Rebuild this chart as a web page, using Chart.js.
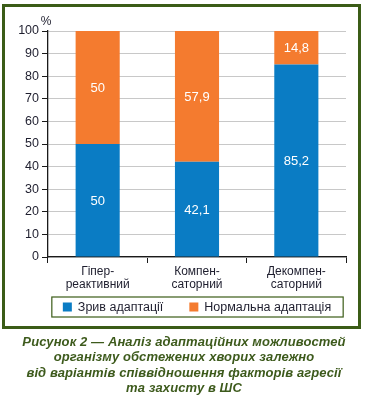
<!DOCTYPE html>
<html>
<head>
<meta charset="utf-8">
<script src="https://cdn.jsdelivr.net/npm/chart.js@4"></script>
<style>
  html, body { margin:0; padding:0; background:#fff; }
  body { width:365px; height:401px; position:relative; overflow:hidden; font-family:"Liberation Sans", Arial, sans-serif; }
  #wrap { position:absolute; left:0; top:0; width:365px; height:330px; }
  #frame { position:absolute; left:2px; top:4px; width:359px; height:325px; box-sizing:border-box; border:3.5px solid #3b5c17; pointer-events:none; }
  #caption { position:absolute; left:0; top:334px; width:368px; text-align:center; color:#3d5a1c; font:italic bold 13px "Liberation Sans", Arial, sans-serif; line-height:15.4px; letter-spacing:0.1px; }
</style>
</head>
<body>
<div id="wrap"><canvas id="c" width="365" height="330"></canvas></div>
<div id="frame"></div>
<div id="caption">Рисунок 2 — Аналіз адаптаційних можливостей<br>організму обстежених хворих залежно<br>від варіантів співвідношення факторів агресії<br>та захисту в ШС</div>
<script>
const categories = [['Гіпер-', 'реактивний'], ['Компен-', 'саторний'], ['Декомпен-', 'саторний']];
const seriesNames = ['Зрив адаптації', 'Нормальна адаптація'];
const breakdownValues = [50, 42.1, 85.2];
const normalValues = [50, 57.9, 14.8];
const yTicks = [0, 10, 20, 30, 40, 50, 60, 70, 80, 90, 100];
const colors = ['#0a7cc4', '#f47b2f'];

const fmt = v => String(v).replace('.', ',');

const valueLabels = {
  id: 'valueLabels',
  afterDatasetsDraw(chart) {
    const ctx = chart.ctx;
    ctx.save();
    ctx.fillStyle = '#ffffff';
    ctx.font = '13px "Liberation Sans", Arial, sans-serif';
    ctx.textAlign = 'center';
    ctx.textBaseline = 'middle';
    chart.data.datasets.forEach((ds, i) => {
      const meta = chart.getDatasetMeta(i);
      meta.data.forEach((el, j) => {
        const p = el.getCenterPoint();
        ctx.fillText(fmt(ds.data[j]), p.x, p.y + 1);
      });
    });
    ctx.restore();
  }
};

const extras = {
  id: 'extras',
  afterDraw(chart) {
    const ctx = chart.ctx;
    const a = chart.chartArea;
    ctx.save();
    ctx.fillStyle = '#1e1e2e';
    ctx.font = '12px "Liberation Sans", Arial, sans-serif';
    ctx.textAlign = 'center';
    ctx.textBaseline = 'middle';
    ctx.fillText('%', a.left - 2, a.top - 9);
    ctx.font = '12.5px "Liberation Sans", Arial, sans-serif';
    const box = 9, gap = 6, itemGap = 26;
    const items = chart.data.datasets.map(ds => ({ label: ds.label, color: ds.backgroundColor, w: box + gap + ctx.measureText(ds.label).width }));
    const total = items.reduce((s, it) => s + it.w, 0) + itemGap * (items.length - 1);
    const cx = (a.left + a.right) / 2;
    let x = cx - total / 2;
    const cy = a.bottom + 50;
    ctx.strokeStyle = '#3b5c17';
    ctx.lineWidth = 1.2;
    ctx.strokeRect(x - 11, cy - 10, total + 23, 20);
    ctx.textAlign = 'left';
    items.forEach(it => {
      ctx.fillStyle = it.color;
      ctx.fillRect(x, cy - box / 2, box, box);
      ctx.fillStyle = '#1e1e2e';
      ctx.fillText(it.label, x + box + gap, cy + 0.5);
      x += it.w + itemGap;
    });
    ctx.restore();
  }
};

new Chart(document.getElementById('c'), {
  type: 'bar',
  data: {
    labels: categories,
    datasets: [
      { label: seriesNames[0], data: breakdownValues, backgroundColor: colors[0], barPercentage: 0.444, categoryPercentage: 1 },
      { label: seriesNames[1], data: normalValues, backgroundColor: colors[1], barPercentage: 0.444, categoryPercentage: 1 }
    ]
  },
  options: {
    responsive: false,
    animation: false,
    devicePixelRatio: 1,
    layout: { padding: { left: 0, right: 19, top: 31, bottom: 33 } },
    plugins: { legend: { display: false }, tooltip: { enabled: false } },
    scales: {
      x: {
        stacked: true,
        grid: { display: true, offset: true, drawOnChartArea: false, drawTicks: true, tickLength: 6, color: '#1a1a1a', lineWidth: 1 },
        border: { display: true, color: '#1a1a1a', width: 1.3 },
        ticks: { color: '#1e1e2e', font: { size: 12, family: '"Liberation Sans", Arial, sans-serif', lineHeight: 1.08 }, padding: 2, maxRotation: 0 },
        afterFit(s) { s.height = 40; }
      },
      y: {
        stacked: true,
        min: 0, max: 100,
        afterBuildTicks(s) { s.ticks = yTicks.map(v => ({ value: v })); },
        grid: { color: '#c8c8c8', lineWidth: 1, drawTicks: true, tickLength: 6, tickColor: '#1a1a1a' },
        border: { display: true, color: '#1a1a1a', width: 1.3 },
        ticks: { color: '#1e1e2e', font: { size: 12.5, family: '"Liberation Sans", Arial, sans-serif' }, padding: 3 },
        afterFit(s) { s.width = 48; }
      }
    }
  },
  plugins: [valueLabels, extras]
});
</script>
</body>
</html>
